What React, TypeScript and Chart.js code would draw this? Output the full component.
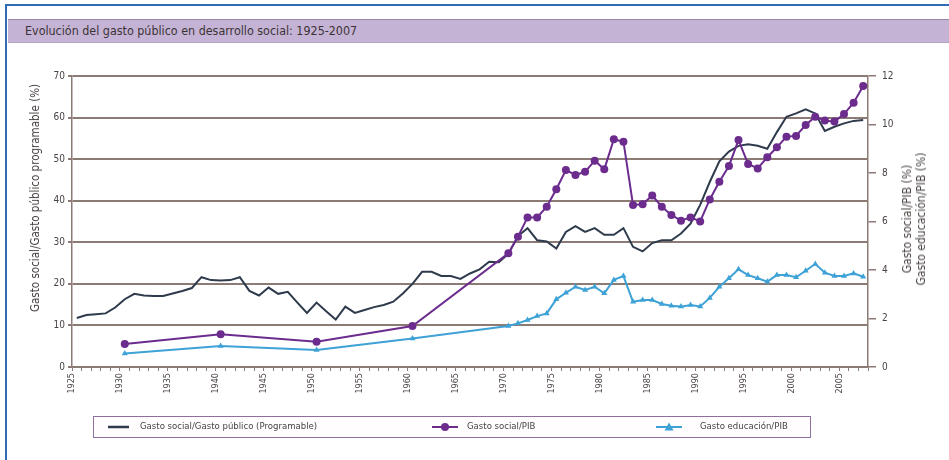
import React, { useEffect, useRef } from 'react';
import { Chart, registerables } from 'chart.js';

Chart.register(...registerables);

// ---------- data ----------
const years = [
  1925, 1926, 1927, 1928, 1929, 1930, 1931, 1932, 1933, 1934,
  1935, 1936, 1937, 1938, 1939, 1940, 1941, 1942, 1943, 1944,
  1945, 1946, 1947, 1948, 1949, 1950, 1951, 1952, 1953, 1954,
  1955, 1956, 1957, 1958, 1959, 1960, 1961, 1962, 1963, 1964,
  1965, 1966, 1967, 1968, 1969, 1970, 1971, 1972, 1973, 1974,
  1975, 1976, 1977, 1978, 1979, 1980, 1981, 1982, 1983, 1984,
  1985, 1986, 1987, 1988, 1989, 1990, 1991, 1992, 1993, 1994,
  1995, 1996, 1997, 1998, 1999, 2000, 2001, 2002, 2003, 2004,
  2005, 2006, 2007,
];

// Gasto social / Gasto público programable (%), left axis
const gastoSocialProgramable = [
  11.8, 12.5, 12.7, 12.9, 14.3, 16.3, 17.6, 17.2, 17.1, 17.1,
  17.7, 18.3, 19.0, 21.6, 20.9, 20.8, 20.9, 21.6, 18.3, 17.2,
  19.1, 17.6, 18.1, 15.5, 13.0, 15.5, 13.4, 11.4, 14.5, 13.0,
  13.7, 14.4, 14.9, 15.7, 17.7, 20.0, 22.9, 22.9, 21.9, 21.9,
  21.2, 22.5, 23.5, 25.3, 25.2, 27.2, 31.5, 33.4, 30.5, 30.2,
  28.5, 32.5, 33.9, 32.5, 33.4, 31.8, 31.8, 33.4, 28.9, 27.8,
  29.8, 30.5, 30.5, 32.1, 34.5, 39.0, 44.5, 49.5, 51.8, 53.2,
  53.6, 53.2, 52.5, 56.5, 60.2, 61.0, 62.0, 61.0, 56.8, 57.8,
  58.6, 59.2, 59.4,
];

// years with PIB ratios
const pibYears = [
  1930, 1940, 1950, 1960,
  1970, 1971, 1972, 1973, 1974, 1975, 1976, 1977, 1978, 1979,
  1980, 1981, 1982, 1983, 1984, 1985, 1986, 1987, 1988, 1989,
  1990, 1991, 1992, 1993, 1994, 1995, 1996, 1997, 1998, 1999,
  2000, 2001, 2002, 2003, 2004, 2005, 2006, 2007,
];

// Gasto social / PIB (%), right axis
const gastoSocialPIB = [
  0.95, 1.35, 1.04, 1.69,
  4.69, 5.37, 6.17, 6.17, 6.61, 7.33, 8.12, 7.92, 8.05, 8.51,
  8.15, 9.39, 9.29, 6.68, 6.71, 7.07, 6.61, 6.27, 6.03, 6.17,
  6.0, 6.91, 7.64, 8.29, 9.36, 8.37, 8.19, 8.65, 9.06, 9.5,
  9.53, 9.98, 10.32, 10.16, 10.12, 10.43, 10.9, 11.59,
];

// Gasto educación / PIB (%), right axis
const gastoEducacionPIB = [
  0.56, 0.87, 0.7, 1.18,
  1.69, 1.8, 1.94, 2.1, 2.21, 2.79, 3.06, 3.31, 3.18, 3.31,
  3.04, 3.59, 3.75, 2.69, 2.76, 2.76, 2.6, 2.53, 2.49, 2.56,
  2.5, 2.85, 3.31, 3.66, 4.03, 3.79, 3.66, 3.52, 3.79, 3.79,
  3.7, 3.97, 4.25, 3.89, 3.75, 3.75, 3.86, 3.72,
];

const xLabelYears = [1925, 1930, 1935, 1940, 1945, 1950, 1955, 1960, 1965, 1970, 1975, 1980, 1985, 1990, 1995, 2000, 2005];
const leftTicks = [0, 10, 20, 30, 40, 50, 60, 70];
const rightTicks = [0, 2, 4, 6, 8, 10, 12];

const titleText = 'Evolución del gasto público en desarrollo social: 1925-2007';
const leftAxisTitle = 'Gasto social/Gasto público programable (%)';
const rightAxisTitle = ['Gasto social/PIB (%)', 'Gasto educación/PIB (%)'];
const seriesNames = ['Gasto social/Gasto público (Programable)', 'Gasto social/PIB', 'Gasto educación/PIB'];

// ---------- styles ----------
const FONT = "'Liberation Sans Narrow', 'DejaVu Sans Condensed', 'Roboto Condensed', 'Arial Narrow', sans-serif";
const TEXT = '#4a4343';
const GRID = '#8c7a74';
const C_BLACK = '#2f3b4c';
const C_PURPLE = '#6c2c8e';
const C_BLUE = '#3ea2d6';

export default function App() {
  const canvasRef = useRef<HTMLCanvasElement | null>(null);

  useEffect(() => {
    if (!canvasRef.current) return;
    Chart.defaults.font.family = FONT;
    const toPts = (xs: number[], ys: number[]) => xs.map((x, i) => ({ x: x + 0.5, y: ys[i] }));
    const chart = new Chart(canvasRef.current, {
      type: 'line',
      data: {
        datasets: [
          {
            label: seriesNames[1],
            data: toPts(pibYears, gastoSocialPIB),
            yAxisID: 'y1',
            borderColor: C_PURPLE,
            backgroundColor: C_PURPLE,
            borderWidth: 2,
            pointRadius: 4,
            pointBorderWidth: 0,
            pointBackgroundColor: C_PURPLE,
            tension: 0,
          },
          {
            label: seriesNames[2],
            data: toPts(pibYears, gastoEducacionPIB),
            yAxisID: 'y1',
            borderColor: C_BLUE,
            backgroundColor: C_BLUE,
            borderWidth: 2,
            pointStyle: 'triangle',
            pointRadius: 3.5,
            pointBorderWidth: 0,
            pointBackgroundColor: C_BLUE,
            tension: 0,
          },
          {
            label: seriesNames[0],
            data: toPts(years, gastoSocialProgramable),
            yAxisID: 'y',
            borderColor: C_BLACK,
            backgroundColor: C_BLACK,
            borderWidth: 2,
            pointRadius: 0,
            tension: 0,
          },
        ],
      },
      options: {
        responsive: false,
        animation: false,
        devicePixelRatio: 1,
        layout: { padding: { top: 76, left: 0, right: 0, bottom: 63 } },
        plugins: { legend: { display: false }, tooltip: { enabled: false }, title: { display: false } },
        scales: {
          x: {
            type: 'linear',
            position: 'bottom',
            min: years[0],
            max: years[years.length - 1] + 1,
            afterBuildTicks: (s: any) => {
              s.ticks = years.concat([years[years.length - 1] + 1]).map((v) => ({ value: v }));
            },
            afterFit: (s: any) => { s.height = 30; },
            grid: { drawOnChartArea: false, drawTicks: true, tickLength: 4, color: GRID, lineWidth: 1 },
            border: { display: true, color: GRID, width: 1.5 },
            ticks: {
              autoSkip: false,
              minRotation: 90,
              maxRotation: 90,
              padding: 2,
              color: TEXT,
              font: { family: FONT, size: 9 },
              callback: (v: any) => (xLabelYears.includes(Number(v)) ? String(v) : ''),
            },
          },
          y: {
            type: 'linear',
            position: 'left',
            min: leftTicks[0],
            max: leftTicks[leftTicks.length - 1],
            afterBuildTicks: (s: any) => { s.ticks = leftTicks.map((v) => ({ value: v })); },
            afterFit: (s: any) => { s.width = 72; },
            grid: { color: GRID, lineWidth: 2, tickLength: 4, drawTicks: true },
            border: { display: true, color: GRID, width: 1.5 },
            ticks: { color: TEXT, padding: 3, font: { family: FONT, size: 10 } },
          },
          y1: {
            type: 'linear',
            position: 'right',
            min: rightTicks[0],
            max: rightTicks[rightTicks.length - 1],
            afterBuildTicks: (s: any) => { s.ticks = rightTicks.map((v) => ({ value: v })); },
            afterFit: (s: any) => { s.width = 81; },
            grid: { drawOnChartArea: false, color: GRID, lineWidth: 1.5, tickLength: 8, drawTicks: true },
            border: { display: true, color: GRID, width: 1.5 },
            ticks: { color: TEXT, padding: 6, font: { family: FONT, size: 10 } },
          },
        },
      } as any,
    });
    return () => chart.destroy();
  }, []);

  const abs: React.CSSProperties = { position: 'absolute' };
  const txt: React.CSSProperties = { fontFamily: FONT, color: TEXT, whiteSpace: 'nowrap' };

  return (
    <div style={{ ...abs, left: 0, top: 0, width: 949, height: 460, overflow: 'hidden', background: '#ffffff' }}>
      {/* outer frame */}
      <div style={{ ...abs, left: 5, top: 4, width: 1000, height: 500, borderLeft: '2px solid #2f6cb5', borderTop: '2px solid #2f6cb5' }} />
      {/* title band */}
      <div style={{ ...abs, left: 8, top: 19, width: 960, height: 22, background: '#c5b3d5', borderTop: '1px solid #9a88a6', borderBottom: '1px solid #b6a3c6' }} />
      <div style={{ ...abs, ...txt, left: 25, top: 23, fontSize: 12.4, lineHeight: '15px', color: '#3b3436' }}>{titleText}</div>

      {/* legend box */}
      <div style={{ ...abs, left: 93, top: 416, width: 716, height: 20, border: '1.5px solid #8f6f9f', background: '#fffdfd' }} />

      <canvas ref={canvasRef} width={949} height={460} style={{ ...abs, left: 0, top: 0, width: 949, height: 460 }} />

      {/* axis titles */}
      <div style={{ ...abs, ...txt, left: 35, top: 198, fontSize: 11.5, lineHeight: '14px', transform: 'translate(-50%, -50%) rotate(-90deg)' }}>{leftAxisTitle}</div>
      <div style={{ ...abs, ...txt, left: 914, top: 219, fontSize: 12, lineHeight: '14px', textAlign: 'center', transform: 'translate(-50%, -50%) rotate(-90deg)' }}>
        {rightAxisTitle.map((t) => (<div key={t}>{t}</div>))}
      </div>

      {/* legend items */}
      <svg style={{ ...abs, left: 108, top: 422 }} width={21} height={10}>
        <line x1={0} y1={5} x2={21} y2={5} stroke={C_BLACK} strokeWidth={2.5} />
      </svg>
      <div style={{ ...abs, ...txt, left: 140, top: 420, fontSize: 9.5, lineHeight: '12px' }}>{seriesNames[0]}</div>

      <svg style={{ ...abs, left: 432, top: 421 }} width={26} height={12}>
        <line x1={0} y1={6} x2={26} y2={6} stroke={C_PURPLE} strokeWidth={2} />
        <circle cx={13} cy={6} r={4} fill={C_PURPLE} />
      </svg>
      <div style={{ ...abs, ...txt, left: 467, top: 420, fontSize: 9.5, lineHeight: '12px' }}>{seriesNames[1]}</div>

      <svg style={{ ...abs, left: 656, top: 421 }} width={26} height={12}>
        <line x1={0} y1={6} x2={26} y2={6} stroke={C_BLUE} strokeWidth={2} />
        <polygon points="13,1.5 17.5,9.5 8.5,9.5" fill={C_BLUE} />
      </svg>
      <div style={{ ...abs, ...txt, left: 700, top: 420, fontSize: 9.5, lineHeight: '12px' }}>{seriesNames[2]}</div>
    </div>
  );
}
